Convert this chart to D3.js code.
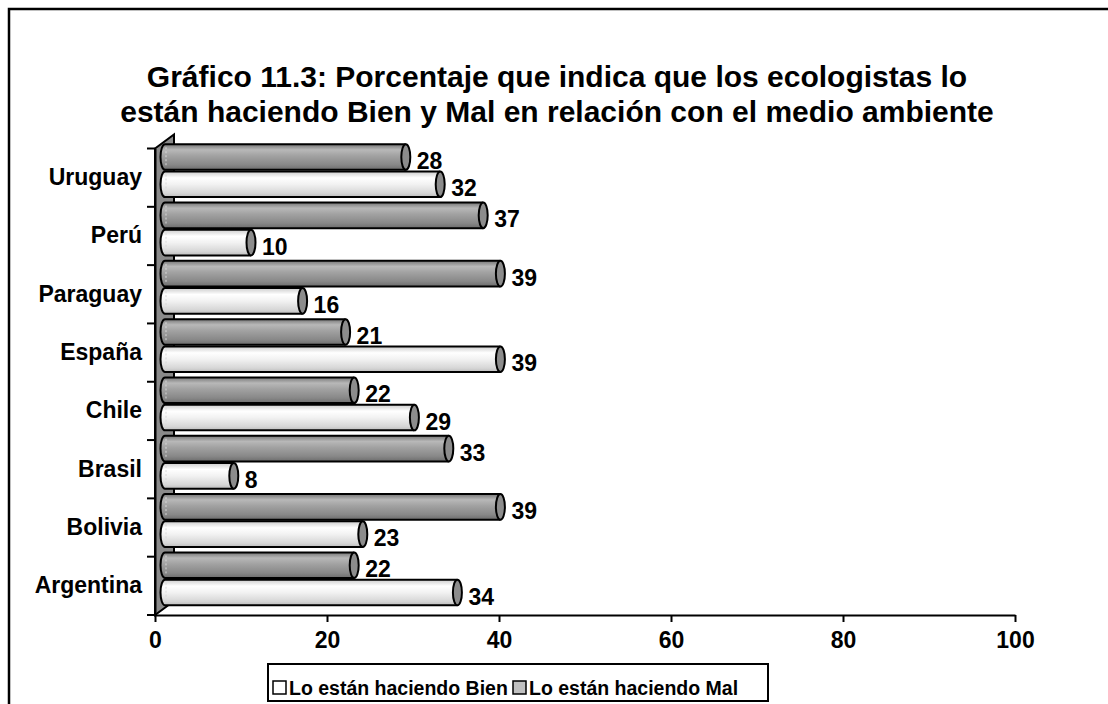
<!DOCTYPE html>
<html>
<head>
<meta charset="utf-8">
<script src="https://cdn.jsdelivr.net/npm/d3@7"></script>
<style>
  body { margin: 0; background: #fff; }
  svg { display: block; font-family: "Liberation Sans", Arial, sans-serif; }
</style>
</head>
<body>
<div id="container"></div>
<script>
// categories from top to bottom
const countries = ["Uruguay", "Perú", "Paraguay", "España", "Chile", "Brasil", "Bolivia", "Argentina"];
const bien = [32, 10, 16, 39, 29, 8, 23, 34];
const mal = [28, 37, 39, 21, 22, 33, 39, 22];
const seriesNames = ["Lo están haciendo Bien", "Lo están haciendo Mal"];
const xTicks = [0, 20, 40, 60, 80, 100];
const titleLines = [
  "Gráfico 11.3: Porcentaje que indica que los ecologistas lo",
  "están haciendo Bien y Mal en relación con el medio ambiente"
];

const width = 1108;
const height = 704;
const depth = { dx: 19, dy: -14 };   // 3D depth of the wall
const half = { dx: 10, dy: -7 };     // bars sit at half depth
const labelSize = "23px";

const svg = d3.select("#container")
  .append("svg")
  .attr("width", width)
  .attr("height", height);

// gradients for the cylinders
const defs = svg.append("defs");
function cylGrad(id, stops) {
  const g = defs.append("linearGradient")
    .attr("id", id)
    .attr("x1", 0).attr("y1", 0).attr("x2", 0).attr("y2", 1);
  stops.forEach(s => g.append("stop").attr("offset", s[0]).attr("stop-color", s[1]));
}
cylGrad("gMal", [[0, "#767676"], [0.22, "#b8b8b8"], [0.45, "#a2a2a2"], [0.8, "#888888"], [1, "#6c6c6c"]]);
cylGrad("gBien", [[0, "#cccccc"], [0.25, "#ffffff"], [0.5, "#f2f2f2"], [0.85, "#d6d6d6"], [1, "#bcbcbc"]]);

// outer frame
svg.append("rect")
  .attr("x", 9).attr("y", 9)
  .attr("width", width + 20).attr("height", height + 20)
  .attr("fill", "none")
  .attr("stroke", "#000")
  .attr("stroke-width", 2.5);

// title
svg.append("g")
  .selectAll("text")
  .data(titleLines)
  .enter()
  .append("text")
  .attr("x", 557)
  .attr("y", (d, i) => 87 + i * 35)
  .attr("text-anchor", "middle")
  .attr("font-size", "30px")
  .attr("font-weight", "bold")
  .text(d => d);

const xScale = d3.scaleLinear().domain([0, 100]).range([155, 1015]);
const yScale = d3.scaleBand().domain(countries).range([148.5, 615]).paddingInner(0).paddingOuter(0);
const sub = d3.scaleBand().domain(["mal", "bien"]).range([0, yScale.bandwidth()]).paddingInner(0.06).paddingOuter(0.1);

// back wall
const x0 = xScale(0);
svg.append("path")
  .attr("d", `M${x0},${yScale.range()[0]} L${x0 + depth.dx},${yScale.range()[0] + depth.dy} L${x0 + depth.dx},${615 + depth.dy} L${x0},615 Z`)
  .attr("fill", "#8a8a8a")
  .attr("stroke", "#000")
  .attr("stroke-width", 2);

// bars
const rows = [];
countries.forEach((c, i) => {
  rows.push({ country: c, key: "mal", value: mal[i] });
  rows.push({ country: c, key: "bien", value: bien[i] });
});

const barG = svg.append("g");
const bars = barG.selectAll("g.bar")
  .data(rows)
  .enter()
  .append("g")
  .attr("class", "bar");

function barGeom(d) {
  const y = yScale(d.country) + sub(d.key) + half.dy;
  const h = sub.bandwidth();
  const xs = xScale(0) + half.dx;
  const xe = xScale(d.value) + half.dx;
  return { y, h, xs, xe };
}

const rx = 4.5;
bars.append("path")
  .attr("d", d => {
    const g = barGeom(d);
    return `M${g.xe},${g.y} L${g.xs},${g.y} A${rx},${g.h / 2} 0 0 0 ${g.xs},${g.y + g.h} L${g.xe},${g.y + g.h}`;
  })
  .attr("fill", d => d.key === "mal" ? "url(#gMal)" : "url(#gBien)")
  .attr("stroke", "#000")
  .attr("stroke-width", 2);

// faint line of the start cap
bars.append("line")
  .attr("x1", d => barGeom(d).xs + 1)
  .attr("x2", d => barGeom(d).xs + 1)
  .attr("y1", d => barGeom(d).y + 3)
  .attr("y2", d => barGeom(d).y + barGeom(d).h - 3)
  .attr("stroke", "#d8d8d8")
  .attr("stroke-dasharray", "2,2");

bars.append("ellipse")
  .attr("cx", d => barGeom(d).xe)
  .attr("cy", d => barGeom(d).y + barGeom(d).h / 2)
  .attr("rx", rx)
  .attr("ry", d => barGeom(d).h / 2)
  .attr("fill", "#8c8c8c")
  .attr("stroke", "#000")
  .attr("stroke-width", 2);

// value labels
bars.append("text")
  .attr("x", d => barGeom(d).xe + 11)
  .attr("y", d => barGeom(d).y + barGeom(d).h / 2 + 4)
  .attr("dy", "0.35em")
  .attr("font-size", labelSize)
  .attr("font-weight", "bold")
  .text(d => d.value);

// y axis (category)
const yAxis = d3.axisLeft(yScale).tickSize(0).tickPadding(13);
const yg = svg.append("g")
  .attr("transform", `translate(${x0},0)`)
  .call(yAxis);
yg.select(".domain").attr("stroke", "#000").attr("stroke-width", 2);
yg.selectAll("text")
  .attr("font-size", labelSize)
  .attr("font-weight", "bold")
  .attr("font-family", "Liberation Sans, Arial, sans-serif")
  .attr("fill", "#000");

// category boundary ticks
svg.append("g")
  .selectAll("line")
  .data(countries.map(c => yScale(c)).concat([615]))
  .enter()
  .append("line")
  .attr("x1", x0 - 8).attr("x2", x0)
  .attr("y1", d => d).attr("y2", d => d)
  .attr("stroke", "#000")
  .attr("stroke-width", 2);

// x axis
const xAxis = d3.axisBottom(xScale).tickValues(xTicks).tickSize(7).tickPadding(10).tickSizeOuter(0);
const xg = svg.append("g")
  .attr("transform", "translate(0,615)")
  .call(xAxis);
xg.select(".domain").attr("stroke", "#000").attr("stroke-width", 2);
xg.selectAll(".tick line").attr("stroke", "#000").attr("stroke-width", 2);
xg.selectAll("text")
  .attr("font-size", labelSize)
  .attr("font-weight", "bold")
  .attr("font-family", "Liberation Sans, Arial, sans-serif")
  .attr("fill", "#000");

// legend
const legend = svg.append("g");
legend.append("rect")
  .attr("x", 268).attr("y", 664)
  .attr("width", 500).attr("height", 37)
  .attr("fill", "#fff")
  .attr("stroke", "#000")
  .attr("stroke-width", 2);
const legendX = [273, 513];
const legendFill = ["#ffffff", "#c0c0c0"];
seriesNames.forEach((name, i) => {
  legend.append("rect")
    .attr("x", legendX[i]).attr("y", 681)
    .attr("width", 13).attr("height", 13)
    .attr("fill", legendFill[i])
    .attr("stroke", "#000")
    .attr("stroke-width", 1.5);
  legend.append("text")
    .attr("x", legendX[i] + 16).attr("y", 695)
    .attr("font-size", "19.5px")
    .attr("font-weight", "bold")
    .text(name);
});
</script>
</body>
</html>
